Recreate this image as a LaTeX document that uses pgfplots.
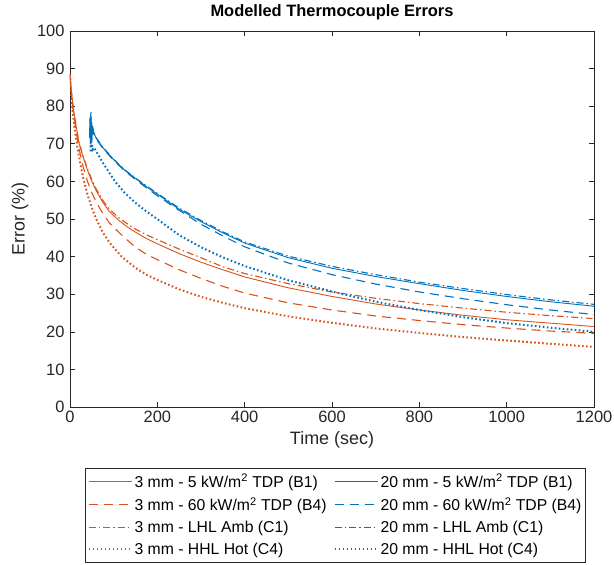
\documentclass[border=0pt]{standalone}
\usepackage{fontspec}
\setmainfont{Liberation Sans}
\usepackage{pgfplots}
\pgfplotsset{compat=1.18}
\definecolor{mor}{rgb}{0.85,0.325,0.098}
\definecolor{mbl}{rgb}{0,0.447,0.741}
\definecolor{axc}{rgb}{0.15,0.15,0.15}
\tikzset{
 sSol/.style={line width=0.9bp},
 sDash/.style={line width=1.1bp, dash pattern=on 9bp off 6bp},
 sDD/.style={line width=1.1bp, dash pattern=on 7bp off 3bp on 1.5bp off 3bp},
 sDot/.style={line width=2bp, dash pattern=on 1.6bp off 2.4bp},
}
\begin{document}
\begin{tikzpicture}
\useasboundingbox (-70bp,-158bp) rectangle (544bp,407bp);
\begin{axis}[
 at={(0,0)}, anchor=south west,
 width=524bp, height=376bp, scale only axis,
 xmin=0, xmax=1200, ymin=0, ymax=100,
 xtick={0,200,...,1200}, ytick={0,10,...,100},
 tick align=inside, major tick length=5bp,
 axis line style={draw=axc, line width=0.6bp},
 every tick/.style={axc, line width=0.6bp},
 /pgf/number format/assume math mode=true,
 /pgf/number format/1000 sep={},
 tick label style={font=\fontsize{16.5}{19}\selectfont, text=axc},
 yticklabel style={xshift=-2bp},
 xlabel={Time (sec)}, ylabel={Error (\%)},
 every axis x label/.style={at={(axis description cs:0.5,-0.0878)}, anchor=center, font=\fontsize{18}{21}\selectfont, text=axc},
 every axis y label/.style={at={(axis description cs:-0.0954,0.5)}, anchor=center, rotate=90, font=\fontsize{18}{21}\selectfont, text=axc},
 title={Modelled Thermocouple Errors},
 every axis title/.style={at={(axis description cs:0.5,1.0505)}, anchor=center, font=\bfseries\fontsize{16.5}{19}\selectfont},
 legend columns=2,
 legend cell align=left,
 legend style={at={(axis description cs:0.5067,-0.162)}, anchor=north, draw=axc,
   font=\fontsize{15.8}{18}\selectfont, inner xsep=2bp, inner ysep=4bp,
   nodes={inner xsep=2bp, inner ysep=2bp},
   /tikz/every even column/.append style={column sep=5bp}, row sep=5bp},
]
% orange solid 3mm B1
\addplot[color=mor, sSol, legend image code/.code={\color{mor}\draw[draw=mor, sSol] (0bp,0bp) -- (43bp,0bp);}] coordinates {
(0,88.5)(2,85.5)(5,82)(10,77.5)(15,74)(20,70.5)(30,66.5)(40,63)(50,60)(60,57.5)(75,54.5)(90,52)(110,49.8)(130,48)(150,46.5)(175,44.8)(200,43.4)(250,40.8)(300,38.5)(350,36.5)(400,34.6)(500,31.7)(600,29.4)(700,27.4)(800,25.8)(900,24.4)(1000,23.2)(1100,22.3)(1200,21.4)};
\addlegendentry{3 mm - 5 kW/m\textsuperscript{2} TDP (B1)}
% blue solid 20mm B1
\addplot[color=mbl, sSol, legend image code/.code={\color{mbl}\draw[draw=mbl, sSol] (0bp,0bp) -- (43bp,0bp);}] coordinates {
(45,72)(46,76.5)(46.5,70)(47,78)(47.5,71)(48,77)(48.5,72)(49,75.5)(50,70.5)(51,74.5)(52,72.5)(53,73.8)(55,72.8)(60,71.5)(75,69)(100,65.8)(125,63)(150,60.8)(175,58.6)(200,56.6)(250,52.6)(300,49.3)(350,46.3)(400,43.6)(500,39.7)(600,36.9)(700,34.7)(800,32.8)(900,31)(1000,29.4)(1100,28)(1200,26.8)};
\addlegendentry{20 mm - 5 kW/m\textsuperscript{2} TDP (B1)}
% orange dashed B4
\addplot[color=mor, sDash, legend image code/.code={\color{mor}\draw[draw=mor, sDash] (0bp,0bp) -- (43bp,0bp);}] coordinates {
(0,88.5)(2,85)(5,81)(10,76.5)(15,72.5)(20,69)(30,64)(40,60)(50,57)(60,54.5)(75,51.5)(90,49)(100,47.8)(125,45)(150,42.5)(175,40.6)(200,39.2)(250,36.5)(300,34.2)(350,32.1)(400,30.3)(500,27.7)(600,25.8)(700,24.2)(800,23)(900,21.9)(1000,21)(1100,20.2)(1200,19.6)};
\addlegendentry{3 mm - 60 kW/m\textsuperscript{2} TDP (B4)}
% blue dashed B4
\addplot[color=mbl, sDash, legend image code/.code={\color{mbl}\draw[draw=mbl, sDash] (0bp,0bp) -- (43bp,0bp);}] coordinates {
(45,71.5)(46,76)(47,77)(48,72)(49,75)(50,71)(51,74)(53,73.5)(55,72.6)(60,71.3)(75,68.8)(100,65.6)(125,62.8)(150,60.5)(175,58.3)(200,56.2)(250,52.3)(300,48.6)(350,45.5)(400,42.6)(500,38.3)(600,35.2)(700,32.7)(800,30.6)(900,28.8)(1000,27.2)(1100,25.8)(1200,24.6)};
\addlegendentry{20 mm - 60 kW/m\textsuperscript{2} TDP (B4)}
% orange dash-dot C1
\addplot[color=mor, sDD, legend image code/.code={\color{mor}\draw[draw=mor, sDD] (0bp,0bp) -- (43bp,0bp);}] coordinates {
(0,88.5)(2,85.5)(5,82)(10,77.5)(15,74)(20,70.6)(30,66.7)(40,63.3)(50,60.5)(60,58)(75,55)(90,52.6)(110,50.5)(130,48.8)(150,47.3)(175,45.8)(200,44.5)(250,42)(300,39.7)(350,37.3)(400,35.5)(500,32.8)(600,30.6)(700,28.9)(800,27.5)(900,26.3)(1000,25.2)(1100,24.3)(1200,23.5)};
\addlegendentry{3 mm - LHL Amb (C1)}
% blue dash-dot C1
\addplot[color=mbl, sDD, legend image code/.code={\color{mbl}\draw[draw=mbl, sDD] (0bp,0bp) -- (43bp,0bp);}] coordinates {
(45,72.5)(46,77)(47,71)(48,78.5)(49,73)(50,76)(51,72)(53,73.9)(55,73)(60,71.6)(75,69.1)(100,65.9)(125,63.1)(150,60.9)(175,58.8)(200,56.8)(250,52.9)(300,49.6)(350,46.6)(400,43.9)(500,40.1)(600,37.4)(700,35.2)(800,33.2)(900,31.5)(1000,29.9)(1100,28.5)(1200,27.3)};
\addlegendentry{20 mm - LHL Amb (C1)}
% orange dotted C4
\addplot[color=mor, sDot, legend image code/.code={\color{mor}\draw[draw=mor, sDot] (0bp,0bp) -- (43bp,0bp);}] coordinates {
(0,88.5)(2,84)(5,80)(10,74.5)(15,70.5)(20,67)(30,61)(40,56.5)(50,53)(60,50)(75,46.5)(90,43.8)(118,40)(150,37)(175,35.2)(200,33.8)(250,31.3)(300,29.3)(350,27.7)(400,26.3)(500,24.1)(600,22.4)(700,20.9)(800,19.7)(900,18.6)(1000,17.7)(1100,16.8)(1200,16.0)};
\addlegendentry{3 mm - HHL Hot (C4)}
% blue dotted C4
\addplot[color=mbl, sDot, legend image code/.code={\color{mbl}\draw[draw=mbl, sDot] (0bp,0bp) -- (43bp,0bp);}] coordinates {
(47,68)(48,71)(49,69)(50,70)(52,68.5)(55,69)(60,68)(75,65)(103,60)(125,57)(150,54.3)(175,52)(202,49.8)(250,45.7)(300,42.5)(350,39.8)(400,37.5)(500,33.7)(600,30.7)(700,28)(800,25.8)(900,23.9)(1000,22.3)(1100,21.1)(1200,20.0)};
\addlegendentry{20 mm - HHL Hot (C4)}
\end{axis}
\end{tikzpicture}
\end{document}
